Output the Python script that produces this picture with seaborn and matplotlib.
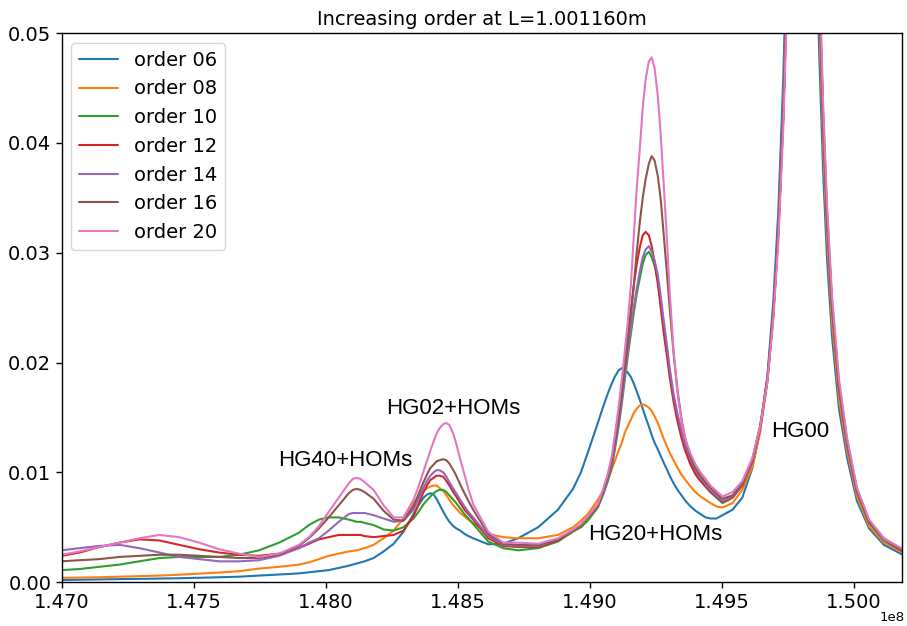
import numpy as np
import pandas as pd
import matplotlib
matplotlib.use("Agg")
import matplotlib.pyplot as plt
from matplotlib.ticker import MultipleLocator
import seaborn as sns

# ---- data (frequency in MHz, transmitted power) ----
freq_mhz = [147.000, 147.068, 147.143, 147.219, 147.294, 147.370, 147.445, 147.521, 147.596, 147.672, 147.747, 147.823, 147.898,
            147.936, 147.974, 148.011, 148.049, 148.087, 148.102, 148.117, 148.132, 148.147, 148.181,
            148.219, 148.257, 148.294, 148.332, 148.351, 148.370, 148.385, 148.396, 148.408, 148.419,
            148.430, 148.445, 148.457, 148.468, 148.483, 148.494, 148.509, 148.525, 148.540, 148.558,
            148.615, 148.672, 148.728, 148.804, 148.879, 148.936, 148.966, 148.992, 149.030,
            149.049, 149.068, 149.083, 149.094, 149.109, 149.121, 149.132, 149.143, 149.155, 149.166,
            149.177, 149.189, 149.200, 149.211, 149.223, 149.234, 149.245, 149.257, 149.268, 149.279,
            149.291, 149.302, 149.317, 149.332, 149.347, 149.362, 149.381, 149.400, 149.419, 149.438,
            149.457, 149.479, 149.502,
            149.540, 149.577, 149.615, 149.645, 149.672, 149.694, 149.713, 149.732, 149.747, 149.766, 149.785, 149.808,
            149.830, 149.849, 149.868, 149.883, 149.898, 149.917, 149.943, 149.974, 150.011, 150.057, 150.113, 150.200]

order_06 = [0.0002, 0.00022, 0.00025, 0.00028, 0.0003, 0.00033, 0.00036, 0.0004, 0.00045, 0.0005, 0.0006, 0.0007, 0.0008,
            0.0009, 0.0010, 0.0011, 0.0013, 0.0015, 0.0016, 0.0017, 0.0018, 0.0019, 0.0022,
            0.0028, 0.0035, 0.0046, 0.0062, 0.0070, 0.0077, 0.0080, 0.0081, 0.0080, 0.0076,
            0.0071, 0.0064, 0.0059, 0.0055, 0.0051, 0.0049, 0.0047, 0.0044, 0.0042, 0.0040,
            0.00345, 0.0035, 0.0040, 0.0050, 0.0066, 0.0085, 0.0100, 0.0118, 0.0145,
            0.0159, 0.0172, 0.0181, 0.0187, 0.0193, 0.0195, 0.0194, 0.0191, 0.0187, 0.0181,
            0.0174, 0.0166, 0.0158, 0.0150, 0.0142, 0.0134, 0.0127, 0.0121, 0.0115, 0.0109,
            0.0103, 0.0097, 0.0090, 0.0084, 0.0079, 0.0074, 0.0069, 0.0065, 0.0062, 0.0059,
            0.0058, 0.0058, 0.0061,
            0.0066, 0.0077, 0.0104, 0.0139, 0.0188, 0.0254, 0.0336, 0.0458, 0.0589, 0.0810, 0.1036, 0.1118,
            0.0906, 0.0671, 0.0483, 0.0374, 0.0294, 0.0223, 0.0158, 0.0113, 0.0074, 0.0049, 0.0034, 0.0023]

order_08 = [0.0004, 0.00042, 0.00045, 0.0005, 0.00055, 0.0006, 0.00068, 0.00078, 0.00088, 0.0010, 0.00124, 0.0014, 0.0016,
            0.0018, 0.0021, 0.0024, 0.0026, 0.0028, 0.00285, 0.0029, 0.0030, 0.0031, 0.0034,
            0.0040, 0.0047, 0.0058, 0.0072, 0.0078, 0.0083, 0.0086, 0.0087, 0.0088, 0.0088,
            0.0086, 0.0083, 0.0079, 0.0075, 0.0070, 0.0067, 0.0063, 0.0060, 0.0057, 0.0054,
            0.0044, 0.0041, 0.0040, 0.0040, 0.0043, 0.0050, 0.0056, 0.0062, 0.0075,
            0.0083, 0.0093, 0.0103, 0.0110, 0.0120, 0.0127, 0.0136, 0.0142, 0.0148, 0.0154,
            0.0158, 0.0161, 0.0162, 0.0161, 0.0159, 0.0156, 0.0151, 0.0145, 0.0138, 0.0131,
            0.0124, 0.0118, 0.0111, 0.0104, 0.0098, 0.0093, 0.0087, 0.0082, 0.0078, 0.0075,
            0.0072, 0.0069, 0.0068,
            0.0072, 0.0084, 0.0105, 0.0137, 0.0182, 0.0243, 0.0320, 0.0432, 0.0556, 0.0770, 0.1010, 0.1130,
            0.0950, 0.0715, 0.0515, 0.0398, 0.0313, 0.0236, 0.0167, 0.0119, 0.0078, 0.0051, 0.0036, 0.0025]

order_10 = [0.0011, 0.0012, 0.0014, 0.0016, 0.0019, 0.0022, 0.0023, 0.0023, 0.0023, 0.0025, 0.0029, 0.0036, 0.0045,
            0.0052, 0.0057, 0.0059, 0.0059, 0.0057, 0.0056, 0.0055, 0.0055, 0.0054, 0.0052,
            0.0048, 0.0047, 0.0050, 0.0058, 0.0064, 0.0071, 0.0075, 0.0078, 0.0081, 0.0083,
            0.0084, 0.0084, 0.0082, 0.0079, 0.0075, 0.0072, 0.0067, 0.0062, 0.0058, 0.0053,
            0.0037, 0.0031, 0.0029, 0.0031, 0.0037, 0.0046, 0.0050, 0.0056, 0.0068,
            0.0079, 0.0092, 0.0105, 0.0120, 0.0142, 0.0163, 0.0184, 0.0205, 0.0226, 0.0245,
            0.0262, 0.0277, 0.0290, 0.0298, 0.0301, 0.0296, 0.0288, 0.0275, 0.0256, 0.0235,
            0.0213, 0.0192, 0.0168, 0.0150, 0.0135, 0.0122, 0.0110, 0.0100, 0.0093, 0.0087,
            0.0082, 0.0077, 0.0072,
            0.0077, 0.0088, 0.0110, 0.0141, 0.0184, 0.0242, 0.0315, 0.0422, 0.0543, 0.0748, 0.0983, 0.1134,
            0.0982, 0.0746, 0.0541, 0.0418, 0.0328, 0.0248, 0.0176, 0.0125, 0.0082, 0.0054, 0.0038, 0.0026]

order_12 = [0.0024, 0.0027, 0.0032, 0.0036, 0.0039, 0.0038, 0.0034, 0.0030, 0.0027, 0.0025, 0.0024, 0.0026, 0.0031,
            0.0035, 0.0039, 0.0041, 0.0043, 0.0043, 0.0043, 0.0043, 0.0043, 0.0042, 0.0041,
            0.0042, 0.0043, 0.0047, 0.0060, 0.0071, 0.0082, 0.0089, 0.0093, 0.0095, 0.0097,
            0.0097, 0.0096, 0.0092, 0.0088, 0.0082, 0.0078, 0.0072, 0.0066, 0.0062, 0.0057,
            0.0040, 0.0033, 0.0032, 0.0032, 0.0038, 0.0047, 0.0052, 0.0059, 0.0070,
            0.0082, 0.0097, 0.0112, 0.0130, 0.0155, 0.0178, 0.0202, 0.0225, 0.0248, 0.0270,
            0.0289, 0.0305, 0.0316, 0.0319, 0.0316, 0.0306, 0.0291, 0.0272, 0.0250, 0.0228,
            0.0207, 0.0187, 0.0164, 0.0146, 0.0131, 0.0119, 0.0107, 0.0098, 0.0092, 0.0087,
            0.0082, 0.0078, 0.0073,
            0.0077, 0.0088, 0.0110, 0.0141, 0.0184, 0.0242, 0.0316, 0.0423, 0.0544, 0.0750, 0.0985, 0.1136,
            0.0985, 0.0749, 0.0543, 0.0420, 0.0330, 0.0250, 0.0177, 0.0126, 0.0083, 0.0055, 0.0039, 0.0026]

order_14 = [0.0029, 0.0031, 0.0033, 0.0034, 0.0031, 0.0027, 0.0023, 0.0021, 0.0019, 0.0019, 0.0020, 0.0024, 0.0031,
            0.0036, 0.0040, 0.0047, 0.0055, 0.0062, 0.0063, 0.0063, 0.0063, 0.0063, 0.0061,
            0.0058, 0.0055, 0.0056, 0.0066, 0.0076, 0.0086, 0.0093, 0.0097, 0.0100, 0.0102,
            0.0102, 0.0100, 0.0096, 0.0091, 0.0085, 0.0081, 0.0075, 0.0069, 0.0064, 0.0059,
            0.0042, 0.0034, 0.0033, 0.0033, 0.0039, 0.0047, 0.0052, 0.0059, 0.0069,
            0.0080, 0.0094, 0.0107, 0.0122, 0.0145, 0.0166, 0.0188, 0.0209, 0.0230, 0.0250,
            0.0267, 0.0283, 0.0296, 0.0303, 0.0306, 0.0301, 0.0293, 0.0280, 0.0261, 0.0239,
            0.0217, 0.0195, 0.0171, 0.0153, 0.0138, 0.0125, 0.0112, 0.0102, 0.0095, 0.0089,
            0.0084, 0.0079, 0.0074,
            0.0078, 0.0089, 0.0111, 0.0142, 0.0185, 0.0243, 0.0316, 0.0424, 0.0545, 0.0751, 0.0986, 0.1137,
            0.0988, 0.0752, 0.0546, 0.0422, 0.0332, 0.0252, 0.0179, 0.0127, 0.0084, 0.0056, 0.0039, 0.0027]

order_16 = [0.0019, 0.0020, 0.0021, 0.0023, 0.0024, 0.0025, 0.0025, 0.0024, 0.0023, 0.0022, 0.0022, 0.0025, 0.0033,
            0.0040, 0.0049, 0.0059, 0.0070, 0.0081, 0.0084, 0.0085, 0.0084, 0.0082, 0.0076,
            0.0065, 0.0057, 0.0056, 0.0069, 0.0080, 0.0091, 0.0099, 0.0104, 0.0107, 0.0110,
            0.0111, 0.0112, 0.0111, 0.0108, 0.0102, 0.0097, 0.0089, 0.0081, 0.0074, 0.0066,
            0.0044, 0.0035, 0.0034, 0.0034, 0.0039, 0.0047, 0.0052, 0.0059, 0.0069,
            0.0081, 0.0096, 0.0110, 0.0126, 0.0150, 0.0173, 0.0196, 0.0218, 0.0243, 0.0270,
            0.0300, 0.0328, 0.0350, 0.0367, 0.0381, 0.0388, 0.0384, 0.0370, 0.0349, 0.0318,
            0.0283, 0.0250, 0.0208, 0.0174, 0.0148, 0.0130, 0.0114, 0.0104, 0.0097, 0.0091,
            0.0086, 0.0081, 0.0076,
            0.0079, 0.0090, 0.0112, 0.0143, 0.0186, 0.0244, 0.0317, 0.0424, 0.0546, 0.0752, 0.0988, 0.1138,
            0.0992, 0.0758, 0.0552, 0.0427, 0.0336, 0.0255, 0.0181, 0.0129, 0.0085, 0.0056, 0.0040, 0.0027]

order_20 = [0.0025, 0.0028, 0.0032, 0.0036, 0.0040, 0.0043, 0.0041, 0.0036, 0.0030, 0.0026, 0.0023, 0.0026, 0.0034,
            0.0041, 0.0051, 0.0064, 0.0077, 0.0090, 0.0094, 0.0095, 0.0094, 0.0091, 0.0084,
            0.0070, 0.0059, 0.0059, 0.0075, 0.0087, 0.0101, 0.0112, 0.0120, 0.0128, 0.0135,
            0.0140, 0.0144, 0.0145, 0.0143, 0.0135, 0.0126, 0.0112, 0.0098, 0.0085, 0.0071,
            0.0046, 0.0036, 0.0036, 0.0035, 0.0040, 0.0048, 0.0053, 0.0060, 0.0071,
            0.0084, 0.0099, 0.0115, 0.0133, 0.0160, 0.0185, 0.0210, 0.0236, 0.0270, 0.0315,
            0.0358, 0.0395, 0.0432, 0.0458, 0.0474, 0.0478, 0.0468, 0.0443, 0.0408, 0.0364,
            0.0315, 0.0265, 0.0210, 0.0172, 0.0147, 0.0130, 0.0117, 0.0107, 0.0100, 0.0094,
            0.0088, 0.0083, 0.0078,
            0.0082, 0.0092, 0.0113, 0.0142, 0.0183, 0.0238, 0.0308, 0.0412, 0.0530, 0.0730, 0.0965, 0.1134,
            0.1000, 0.0770, 0.0565, 0.0437, 0.0343, 0.0260, 0.0185, 0.0131, 0.0086, 0.0057, 0.0040, 0.0028]

series_labels = ["order 06", "order 08", "order 10", "order 12", "order 14", "order 16", "order 20"]
series_values = [order_06, order_08, order_10, order_12, order_14, order_16, order_20]

annot_texts = ["HG02+HOMs", "HG40+HOMs", "HG20+HOMs", "HG00"]
annot_x_mhz = [148.230, 147.819, 148.992, 149.687]
annot_y = [0.01536, 0.01055, 0.00382, 0.01318]

# ---- build table ----
freq_hz = np.array(freq_mhz) * 1e6
frames = []
for lab, vals in zip(series_labels, series_values):
    frames.append(pd.DataFrame({"freq": freq_hz, "power": vals, "series": lab}))
df = pd.concat(frames, ignore_index=True)

sns.set_theme(style="ticks")
plt.rcParams["font.family"] = ["DejaVu Sans"]
plt.rcParams["axes.edgecolor"] = "black"
plt.rcParams["xtick.color"] = "black"
plt.rcParams["ytick.color"] = "black"
plt.rcParams["text.color"] = "black"

fig = plt.figure(figsize=(9.07, 6.26), dpi=100)
ax = fig.add_axes([0.068, 0.070, 0.926, 0.877])

palette = sns.color_palette("tab10", len(series_labels))
for i, lab in enumerate(series_labels):
    sub = df[df["series"] == lab]
    sns.lineplot(data=sub, x="freq", y="power", color=palette[i], label=lab,
                 ax=ax, linewidth=1.5, estimator=None, sort=False)

ax.set_xlim(1.470e8, 1.5018e8)
ax.set_ylim(0.0, 0.05)
ax.xaxis.set_major_locator(MultipleLocator(5e5))
ax.yaxis.set_major_locator(MultipleLocator(0.01))
ax.set_xlabel("")
ax.set_ylabel("")
ax.tick_params(labelsize=14, length=4, width=1, direction="out")
# scale label shown manually so it stays inside the canvas
ax.xaxis.get_offset_text().set_visible(False)
fig.text(0.998, 0.003, "1e8", ha="right", va="bottom", fontsize=9.5)
for s in ax.spines.values():
    s.set_visible(True)
    s.set_linewidth(1.0)

ax.set_title("Increasing order at L=1.001160m", fontsize=14)

for t, xm, yv in zip(annot_texts, annot_x_mhz, annot_y):
    ax.text(xm * 1e6, yv, t, fontsize=16, family=["Liberation Sans"],
            ha="left", va="baseline", color="black")

ax.legend(loc="upper left", fontsize=14, frameon=True)

fig.savefig("out.png", dpi=100)
